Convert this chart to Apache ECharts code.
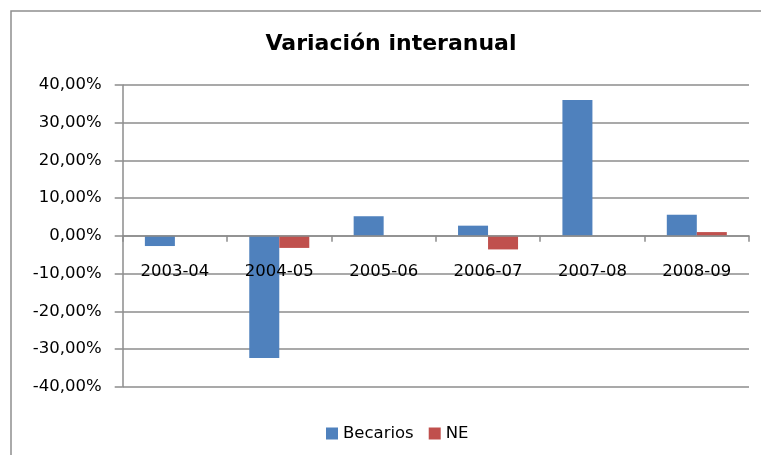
<!DOCTYPE html>
<html>
<head>
<meta charset="utf-8">
<script src="https://cdn.jsdelivr.net/npm/echarts@6/dist/echarts.min.js"></script>
<style>
html,body{margin:0;padding:0;background:#fff;}
#c{width:761px;height:455px;}
</style>
</head>
<body>
<div id="c"></div>
<script>
var categories = ['2003-04', '2004-05', '2005-06', '2006-07', '2007-08', '2008-09'];
var becarios = [-2.7, -32.4, 5.2, 2.7, 36.0, 5.6];
var ne = [0, -3.2, 0, -3.6, 0, 1.0];
var seriesNames = ['Becarios', 'NE'];
var titleText = 'Variación interanual';

var FONT = 'DejaVu Sans';
var GRID_TOP = 85, GRID_BOTTOM = 68.3, H = 455;
var plotH = H - GRID_TOP - GRID_BOTTOM;
var chart = echarts.init(document.getElementById('c'), null, {renderer: 'canvas'});
chart.setOption({
  backgroundColor: '#ffffff',
  animation: false,
  graphic: [{
    type: 'rect',
    left: 8.5, top: 8.5,
    shape: {x: 0, y: 0, width: 800, height: 500},
    style: {fill: 'none', stroke: '#8f8f8f', lineWidth: 1.5},
    silent: true, z: -1
  }],
  title: {
    text: titleText,
    left: 386, top: 28, textAlign: 'center',
    textStyle: {fontFamily: FONT, fontWeight: 'bold', fontSize: 22, color: '#000'}
  },
  legend: {
    data: seriesNames,
    left: 321, top: 420,
    icon: 'rect', itemWidth: 12, itemHeight: 12, itemGap: 15,
    textStyle: {fontFamily: FONT, fontSize: 16.5, color: '#000'}
  },
  grid: {left: 122.7, right: 12, top: GRID_TOP, bottom: GRID_BOTTOM, containLabel: false},
  xAxis: {
    type: 'category',
    data: categories,
    position: 'bottom',
    offset: -plotH / 2,
    z: 5,
    axisLine: {onZero: false, lineStyle: {color: '#8c8c8c', width: 1.5}},
    axisTick: {show: true, length: 6, alignWithLabel: false, lineStyle: {color: '#8c8c8c', width: 1.5}},
    axisLabel: {fontFamily: FONT, fontSize: 16.5, color: '#000', margin: 27, interval: 0}
  },
  yAxis: {
    type: 'value',
    min: -40, max: 40, interval: 10,
    axisLine: {show: true, lineStyle: {color: '#8c8c8c', width: 1.5}},
    axisTick: {show: true, length: 8, lineStyle: {color: '#8c8c8c', width: 1.5}},
    splitLine: {show: true, lineStyle: {color: '#8c8c8c', width: 1.5}},
    axisLabel: {
      fontFamily: FONT, fontSize: 16.5, color: '#000', margin: 21,
      formatter: function (v) { return v.toFixed(2).replace('.', ',') + '%'; }
    }
  },
  series: [
    {name: seriesNames[0], type: 'bar', data: becarios, barGap: '0%', barCategoryGap: '42.5%',
     itemStyle: {color: '#4F81BD'}},
    {name: seriesNames[1], type: 'bar', data: ne, barGap: '0%', barCategoryGap: '42.5%',
     itemStyle: {color: '#C0504D'}}
  ]
});
</script>
</body>
</html>
